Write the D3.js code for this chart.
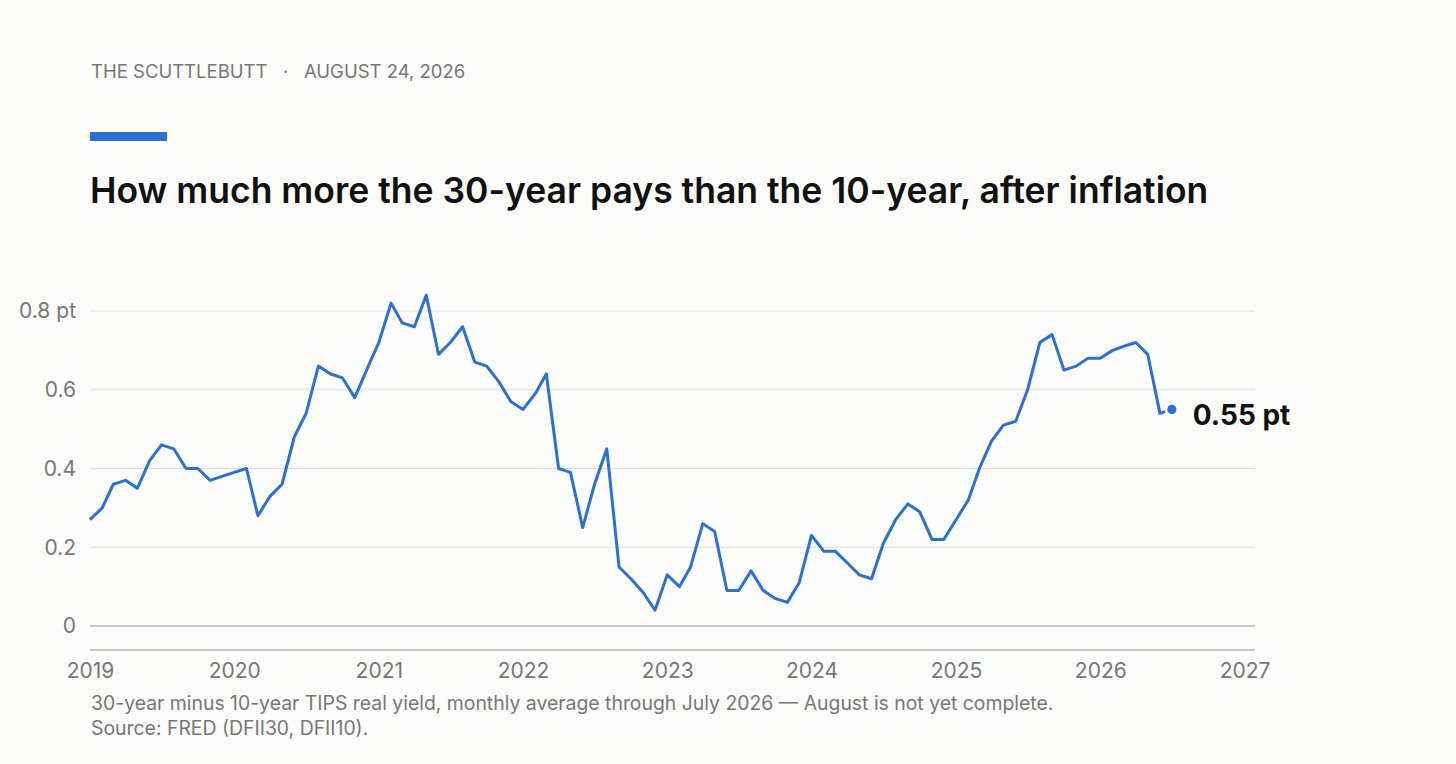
<!DOCTYPE html>
<html>
<head>
<meta charset="utf-8">
<script src="https://cdn.jsdelivr.net/npm/d3@7"></script>
<style>
  html, body { margin: 0; padding: 0; background: #fcfcfa; }
  svg { display: block; font-family: Inter, "Noto Sans", sans-serif; }
</style>
</head>
<body>
<svg id="chart" width="1456" height="764"></svg>
<script>
// ---- data ----
const startMonth = "2019-01";
const spreadValues = [
  0.27, 0.30, 0.36, 0.37, 0.35, 0.42, 0.46, 0.45, 0.40, 0.40, 0.37, 0.38,
  0.39, 0.40, 0.28, 0.33, 0.36, 0.48, 0.54, 0.66, 0.64, 0.63, 0.58, 0.65,
  0.72, 0.82, 0.77, 0.76, 0.84, 0.69, 0.72, 0.76, 0.67, 0.66, 0.62, 0.57,
  0.55, 0.59, 0.64, 0.40, 0.39, 0.25, 0.36, 0.45, 0.15, 0.12, 0.085, 0.04,
  0.13, 0.10, 0.15, 0.26, 0.24, 0.09, 0.09, 0.14, 0.09, 0.07, 0.06, 0.11,
  0.23, 0.19, 0.19, 0.16, 0.13, 0.12, 0.21, 0.27, 0.31, 0.29, 0.22, 0.22,
  0.27, 0.32, 0.40, 0.47, 0.51, 0.52, 0.60, 0.72, 0.74, 0.65, 0.66, 0.68,
  0.68, 0.70, 0.71, 0.72, 0.69, 0.54, 0.55
];
const yTicks = [0, 0.2, 0.4, 0.6, 0.8];
const yTickLabels = ["0", "0.2", "0.4", "0.6", "0.8 pt"];
const xTickYears = [2019, 2020, 2021, 2022, 2023, 2024, 2025, 2026, 2027];
const headerText = "THE SCUTTLEBUTT   ·   AUGUST 24, 2026";
const titleText = "How much more the 30-year pays than the 10-year, after inflation";
const captionLines = [
  "30-year minus 10-year TIPS real yield, monthly average through July 2026 — August is not yet complete.",
  "Source: FRED (DFII30, DFII10)."
];
const lastLabel = "0.55 pt";

// ---- build ----
const parseMonth = d3.timeParse("%Y-%m");
const t0 = parseMonth(startMonth);
const data = spreadValues.map((v, i) => ({ date: d3.timeMonth.offset(t0, i), value: v }));

const svg = d3.select("#chart");
const blue = "#2b71d1";
const gray = "#777";

const x = d3.scaleTime()
  .domain([new Date(2019, 0, 1), new Date(2027, 0, 1)])
  .range([90, 1244.5]);
const y = d3.scaleLinear().domain([0, 0.8]).range([626, 311]);
const gridX0 = 90, gridX1 = 1255;

// header
svg.append("text")
  .attr("x", 91).attr("y", 77.5)
  .attr("font-size", 18.5).attr("fill", gray)
  .attr("xml:space", "preserve")
  .style("white-space", "pre")
  .text(headerText);

svg.append("rect")
  .attr("x", 90).attr("y", 132).attr("width", 77).attr("height", 9)
  .attr("fill", blue);

svg.append("text")
  .attr("x", 90).attr("y", 203)
  .attr("font-size", 35.5).attr("font-weight", 600).attr("fill", "#111")
  .text(titleText);

// gridlines
const grid = svg.append("g");
grid.selectAll("line").data(yTicks).join("line")
  .attr("x1", gridX0).attr("x2", gridX1)
  .attr("y1", d => y(d)).attr("y2", d => y(d))
  .attr("stroke", d => d === 0 ? "#bdbdb5" : "#dddddb")
  .attr("stroke-width", d => d === 0 ? 1.5 : 1.2);

// y labels
svg.append("g").selectAll("text").data(yTicks).join("text")
  .attr("x", 76).attr("y", d => y(d))
  .attr("dy", "0.35em")
  .attr("text-anchor", "end")
  .attr("font-size", 21).attr("fill", gray)
  .text((d, i) => yTickLabels[i]);

// x axis
const xAxis = d3.axisBottom(x)
  .tickValues(xTickYears.map(yr => new Date(yr, 0, 1)))
  .tickFormat(d3.timeFormat("%Y"))
  .tickSize(0).tickPadding(0);
const gx = svg.append("g").attr("transform", "translate(0,650)").call(xAxis);
gx.select(".domain").remove();
gx.selectAll("text")
  .attr("y", 28).attr("dy", null)
  .attr("font-size", 21).attr("fill", gray)
  .attr("font-family", "Inter, 'Noto Sans', sans-serif");
svg.append("line")
  .attr("x1", gridX0).attr("x2", gridX1).attr("y1", 650).attr("y2", 650)
  .attr("stroke", "#b9b9b0").attr("stroke-width", 1.5);

// line
const line = d3.line().x(d => x(d.date)).y(d => y(d.value));
svg.append("path").datum(data)
  .attr("d", line)
  .attr("fill", "none")
  .attr("stroke", blue)
  .attr("stroke-width", 3)
  .attr("stroke-linejoin", "round");

// last point
const last = data[data.length - 1];
svg.append("circle")
  .attr("cx", x(last.date)).attr("cy", y(last.value)).attr("r", 4.6)
  .attr("fill", blue).attr("stroke", "#fcfcfa").attr("stroke-width", 5)
  .attr("paint-order", "stroke");
svg.append("text")
  .attr("x", x(last.date) + 21).attr("y", y(last.value) + 15.5)
  .attr("font-size", 28).attr("font-weight", 700).attr("fill", "#111")
  .text(lastLabel);

// caption
svg.append("g").selectAll("text").data(captionLines).join("text")
  .attr("x", 91).attr("y", (d, i) => 710 + i * 25)
  .attr("font-size", 19.4).attr("fill", gray)
  .text(d => d);
</script>
</body>
</html>
